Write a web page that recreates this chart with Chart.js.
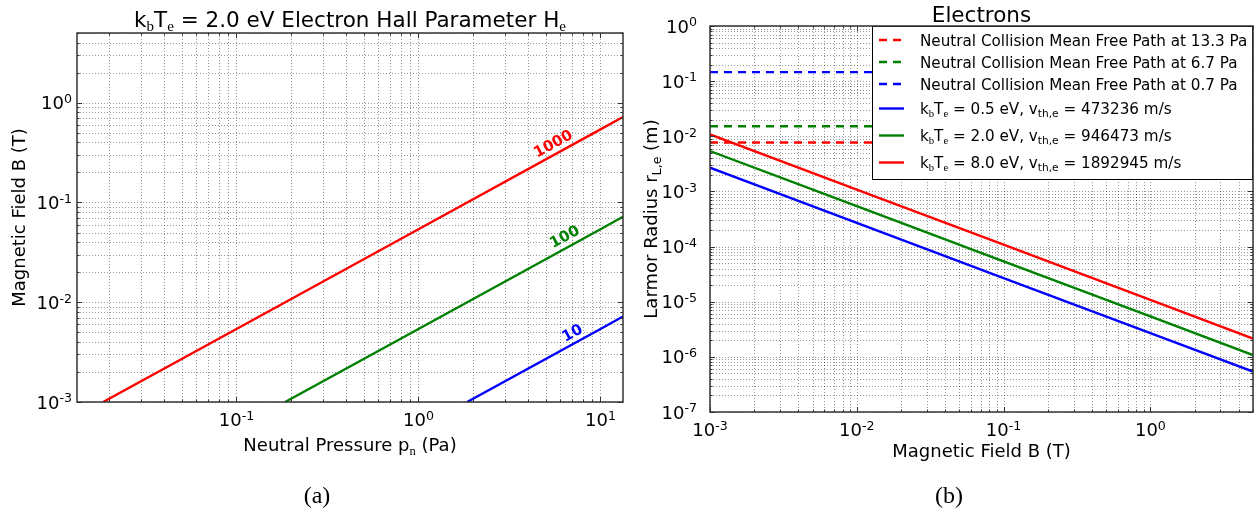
<!DOCTYPE html>
<html>
<head>
<meta charset="utf-8">
<script src="https://cdn.jsdelivr.net/npm/chart.js@4/dist/chart.umd.min.js"></script>
<style>
  html, body { margin: 0; padding: 0; background: #fff; }
  body { width: 1257px; height: 512px; position: relative; overflow: hidden; }
  canvas { position: absolute; top: 0; }
  #hall { left: 0; }
  #larmor { left: 630px; }
</style>
</head>
<body>
<canvas id="hall" width="640" height="512"></canvas>
<canvas id="larmor" width="627" height="512"></canvas>
<script>
const SANS = '"DejaVu Sans", "Bitstream Vera Sans", sans-serif';
const SERIF = '"Liberation Serif", "DejaVu Serif", serif';
const RED = "#ff0000", GREEN = "#008000", BLUE = "#0000ff";
const FRAME = "#333";

/* ========= DATA (a): Hall parameter contours ========= */

const hallLabels = ["1000", "100", "10"];
const pressure1000 = [0.0185, 0.1, 1, 10, 13.3];
const field1000 = [0.001, 0.0054, 0.054, 0.54, 0.72];
const pressure100 = [0.185, 1, 10, 13.3];
const field100 = [0.001, 0.0054, 0.054, 0.072];
const pressure10 = [1.85, 10, 13.3];
const field10 = [0.001, 0.0054, 0.0072];
// where the contour numbers sit
const hallLabelPressure = [5.52, 6.38, 7.03];
const hallLabelField = [0.383, 0.0447, 0.00486];

/* ========= DATA (b): Larmor radius ========= */

const fieldB = [0.001, 0.01, 0.1, 1, 5];
const radius05 = [2.69e-3, 2.69e-4, 2.69e-5, 2.69e-6, 5.4e-7];
const radius20 = [5.4e-3, 5.4e-4, 5.4e-5, 5.4e-6, 1.08e-6];
const radius80 = [1.08e-2, 1.08e-3, 1.08e-4, 1.08e-5, 2.15e-6];
const mfpPressure = ["13.3", "6.7", "0.7"];
const mfpLength = [0.0077, 0.0152, 0.146];
const tempLabels = ["0.5", "2.0", "8.0"];
const thermalSpeed = ["473236", "946473", "1892945"];

/* ========= HELPERS ========= */

const pts = (xs, ys) => xs.map((x, i) => ({ x, y: ys[i] }));

function lineSet(label, xs, ys, color, dash) {
  return {
    label, data: pts(xs, ys), borderColor: color, backgroundColor: color,
    borderWidth: 2.4, borderDash: dash || [], pointRadius: 0, tension: 0, fill: false
  };
}

function hLine(ctx, x0, y0, x1, y1) {
  ctx.beginPath(); ctx.moveTo(x0, y0); ctx.lineTo(x1, y1); ctx.stroke();
}

// "k_{~b}T_{~e}" -> segments; _ sub, ^ sup, ~ serif
function parseRich(str) {
  const segs = [];
  const re = /([_^])\{(~?)([^}]*)\}/g;
  let last = 0, m;
  while ((m = re.exec(str))) {
    if (m.index > last) segs.push({ t: str.slice(last, m.index), k: 0 });
    segs.push({ t: m[3], k: m[1] === "_" ? 1 : -1, serif: m[2] === "~" });
    last = re.lastIndex;
  }
  if (last < str.length) segs.push({ t: str.slice(last), k: 0 });
  return segs;
}

function segFont(s, size) {
  const sz = s.k ? size * 0.7 : size;
  return `${sz}px ${s.serif ? SERIF : SANS}`;
}

function richWidth(ctx, str, size) {
  let w = 0;
  for (const s of parseRich(str)) { ctx.font = segFont(s, size); w += ctx.measureText(s.t).width; }
  return w;
}

function drawRich(ctx, str, x, y, size, align, color) {
  const segs = parseRich(str);
  let w = 0;
  for (const s of segs) { ctx.font = segFont(s, size); s.w = ctx.measureText(s.t).width; w += s.w; }
  let cx = align === "center" ? x - w / 2 : align === "right" ? x - w : x;
  ctx.fillStyle = color || "#000";
  ctx.textAlign = "left";
  ctx.textBaseline = "alphabetic";
  for (const s of segs) {
    ctx.font = segFont(s, size);
    const dy = s.k === 1 ? size * 0.2 : s.k === -1 ? -size * 0.35 : 0;
    ctx.fillText(s.t, cx, y + dy);
    cx += s.w;
  }
}

function decadeTicks(min, max) {
  const out = [];
  for (let e = Math.floor(Math.log10(min)); e <= Math.ceil(Math.log10(max)); e++) {
    for (let k = 1; k <= 9; k++) {
      const v = k * Math.pow(10, e);
      if (v >= min * 0.9999 && v <= max * 1.0001) out.push({ v, major: k === 1, e });
    }
  }
  return out;
}

/* ========= AXES / TEXT PLUGIN ========= */

function decor(cfg) {
  return {
    id: "decor",
    beforeDatasetsDraw(chart) {
      const { ctx, chartArea: a, scales: { x, y } } = chart;
      ctx.save();
      ctx.strokeStyle = "rgba(0,0,0,0.4)";
      ctx.lineWidth = 1;
      ctx.setLineDash([1, 2]);
      for (const t of decadeTicks(x.min, x.max)) {
        const px = Math.round(x.getPixelForValue(t.v)) + 0.5;
        hLine(ctx, px, a.top, px, a.bottom);
      }
      for (const t of decadeTicks(y.min, y.max)) {
        const py = Math.round(y.getPixelForValue(t.v)) + 0.5;
        hLine(ctx, a.left, py, a.right, py);
      }
      ctx.restore();
    },
    afterDatasetsDraw(chart) {
      const { ctx, chartArea: a, scales: { x, y } } = chart;
      const xt = decadeTicks(x.min, x.max), yt = decadeTicks(y.min, y.max);
      ctx.save();
      ctx.strokeStyle = FRAME;
      ctx.lineWidth = 1;
      ctx.setLineDash([]);
      for (const t of xt) {
        const px = Math.round(x.getPixelForValue(t.v)) + 0.5;
        const len = t.major ? 5 : 2.5;
        hLine(ctx, px, a.bottom, px, a.bottom - len);
        hLine(ctx, px, a.top, px, a.top + len);
      }
      for (const t of yt) {
        const py = Math.round(y.getPixelForValue(t.v)) + 0.5;
        const len = t.major ? 5 : 2.5;
        hLine(ctx, a.left, py, a.left + len, py);
        hLine(ctx, a.right, py, a.right - len, py);
      }
      if (cfg.contours) cfg.contours(chart);
      if (cfg.legend) cfg.legend(chart);
      ctx.strokeStyle = FRAME;
      ctx.lineWidth = 1.5;
      ctx.strokeRect(a.left, a.top, a.right - a.left, a.bottom - a.top);

      for (const t of xt) {
        if (t.major) drawRich(ctx, `10^{${t.e}}`, x.getPixelForValue(t.v), a.bottom + 24, 18, "center");
      }
      for (const t of yt) {
        if (t.major) drawRich(ctx, `10^{${t.e}}`, a.left - cfg.yPad, y.getPixelForValue(t.v) + 6.6, 18, "right");
      }
      drawRich(ctx, cfg.xTitle, (a.left + a.right) / 2, cfg.xTitleY, 18, "center");
      drawRich(ctx, cfg.title, (a.left + a.right) / 2, cfg.titleY, 21.5, "center");
      ctx.font = `24px ${SERIF}`;
      ctx.fillStyle = "#000";
      ctx.textAlign = "center";
      ctx.fillText(cfg.caption, cfg.captionX, 503);

      ctx.translate(cfg.yTitleX, (a.top + a.bottom) / 2);
      ctx.rotate(-Math.PI / 2);
      drawRich(ctx, cfg.yTitle, 0, 0, 18, "center");
      ctx.restore();
    }
  };
}

function logAxes(xMin, xMax, yMin, yMax) {
  return {
    x: { type: "logarithmic", min: xMin, max: xMax, display: false },
    y: { type: "logarithmic", min: yMin, max: yMax, display: false }
  };
}

/* ========= (a) HALL PARAMETER ========= */

const hallColors = [RED, GREEN, BLUE];

function drawContourLabels(chart) {
  const { ctx, scales: { x, y } } = chart;
  hallLabels.forEach((txt, i) => {
    const pts = chart.getDatasetMeta(i).data;
    const p0 = pts[0], p1 = pts[pts.length - 1];
    const ang = Math.atan2(p1.y - p0.y, p1.x - p0.x);
    ctx.save();
    ctx.translate(x.getPixelForValue(hallLabelPressure[i]), y.getPixelForValue(hallLabelField[i]));
    ctx.rotate(ang);
    ctx.font = `bold 15px ${SANS}`;
    ctx.fillStyle = hallColors[i];
    ctx.textAlign = "center";
    ctx.textBaseline = "middle";
    ctx.fillText(txt, 0, 0);
    ctx.restore();
  });
}

new Chart(document.getElementById("hall"), {
  type: "line",
  data: {
    datasets: [
      lineSet(hallLabels[0], pressure1000, field1000, RED),
      lineSet(hallLabels[1], pressure100, field100, GREEN),
      lineSet(hallLabels[2], pressure10, field10, BLUE)
    ]
  },
  options: {
    responsive: false, animation: false, devicePixelRatio: 1,
    layout: { padding: { left: 77, right: 17, top: 33, bottom: 110 } },
    scales: logAxes(0.0133, 13.3, 0.001, 5),
    plugins: { legend: { display: false }, tooltip: { enabled: false } }
  },
  plugins: [decor({
    title: "k_{~b}T_{~e} = 2.0 eV Electron Hall Parameter H_{~e}",
    titleY: 27,
    xTitle: "Neutral Pressure p_{~n} (Pa)",
    xTitleY: 451,
    yTitle: "Magnetic Field B (T)",
    yTitleX: 25,
    yPad: 5,
    caption: "(a)",
    captionX: 317,
    contours: drawContourLabels
  })]
});

/* ========= (b) LARMOR RADIUS ========= */

function drawLegend(chart) {
  const { ctx, chartArea: a } = chart;
  const size = 15.2;
  const items = chart.data.datasets;
  let maxW = 0;
  for (const d of items) maxW = Math.max(maxW, richWidth(ctx, d.label, size));
  const heights = items.map(d => (d.label.includes("_{") ? 27 : 22));
  const boxH = 3 + heights.reduce((s, h) => s + h, 0) + 4;
  const right = a.right, left = Math.round(right - (48 + maxW + 6));
  const top = a.top;
  ctx.save();
  ctx.fillStyle = "#fff";
  ctx.fillRect(left, top, right - left, boxH);
  ctx.strokeStyle = "#000";
  ctx.lineWidth = 1;
  ctx.strokeRect(left + 0.5, top + 0.5, right - left - 1, boxH - 1);
  let cy = top + 3;
  items.forEach((d, i) => {
    const mid = cy + heights[i] / 2;
    ctx.strokeStyle = d.borderColor;
    ctx.lineWidth = 2.4;
    ctx.setLineDash(d.borderDash);
    hLine(ctx, left + 7, mid, left + 32, mid);
    ctx.setLineDash([]);
    drawRich(ctx, d.label, left + 48, mid + 5.5, size, "left");
    cy += heights[i];
  });
  ctx.restore();
}

const mfpColors = [RED, GREEN, BLUE];
const tempColors = [BLUE, GREEN, RED];
const tempRadii = [radius05, radius20, radius80];
const fieldEnds = [fieldB[0], fieldB[fieldB.length - 1]];

const larmorSets = [];
mfpPressure.forEach((p, i) => {
  larmorSets.push(lineSet(`Neutral Collision Mean Free Path at ${p} Pa`,
    fieldEnds, [mfpLength[i], mfpLength[i]], mfpColors[i], [8, 6]));
});
tempLabels.forEach((t, i) => {
  larmorSets.push(lineSet(`k_{~b}T_{~e} = ${t} eV, v_{th,e} = ${thermalSpeed[i]} m/s`,
    fieldB, tempRadii[i], tempColors[i]));
});

new Chart(document.getElementById("larmor"), {
  type: "line",
  data: { datasets: larmorSets },
  options: {
    responsive: false, animation: false, devicePixelRatio: 1,
    layout: { padding: { left: 80, right: 4, top: 26, bottom: 100 } },
    scales: logAxes(0.001, 5, 1e-7, 1),
    plugins: { legend: { display: false }, tooltip: { enabled: false } }
  },
  plugins: [decor({
    title: "Electrons",
    titleY: 22,
    xTitle: "Magnetic Field B (T)",
    xTitleY: 457,
    yTitle: "Larmor Radius r_{L,e} (m)",
    yTitleX: 27,
    yPad: 13,
    caption: "(b)",
    captionX: 319,
    legend: drawLegend
  })]
});
</script>
</body>
</html>
